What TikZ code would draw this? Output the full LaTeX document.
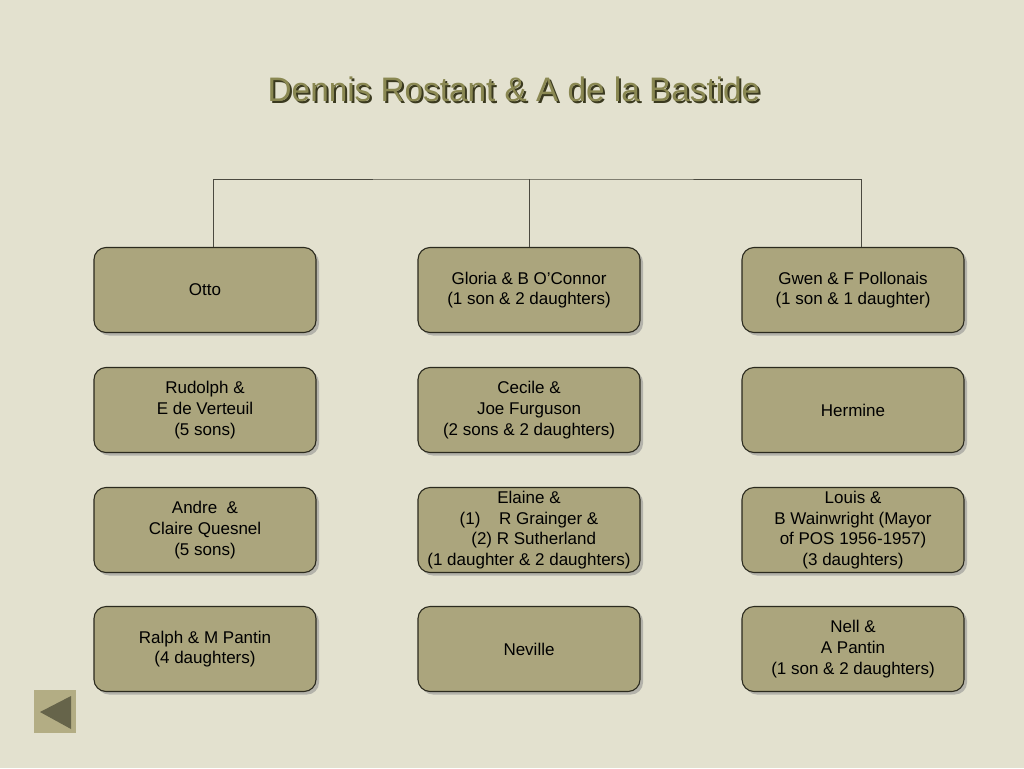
\documentclass[tikz,border=0pt]{standalone}
\usepackage{fontspec}
\setmainfont{Liberation Sans}
\usetikzlibrary{positioning}
\definecolor{slidebg}{HTML}{E3E1CF}
\definecolor{boxfill}{HTML}{ABA57D}
\definecolor{boxline}{HTML}{2B2A1E}
\definecolor{titlefill}{HTML}{8A8852}
\definecolor{titleshade}{HTML}{3A391F}
\definecolor{btnfill}{HTML}{B3AD84}
\definecolor{btnarrow}{HTML}{66644A}
\tikzset{
  family/.style={draw=boxline, line width=1.1pt, fill=boxfill, rounded corners=12pt,
    minimum width=222pt, minimum height=85pt, align=center, inner sep=2pt,
    font=\fontsize{17pt}{20.6pt}\selectfont,
    preaction={fill=black!45, opacity=0.55, transform canvas={shift={(3pt,-3pt)}}}},
  link/.style={draw=boxline!85, line width=1pt},
}
\begin{document}
\begin{tikzpicture}[x=1pt, y=-1pt]
				\fill[slidebg] (0,0) rectangle (1024,768);
				\useasboundingbox (0,0) rectangle (1024,768);

				% title with its shadow
				\node[text=titleshade, font=\fontsize{34pt}{36pt}\selectfont, xscale=0.98] at (516,91) {Dennis Rostant \& A de la Bastide};
				\node[text=titlefill, font=\fontsize{34pt}{36pt}\selectfont, xscale=0.98] (title) at (514,89) {Dennis Rostant \& A de la Bastide};

				% first row
				\node[family] (otto) at (205,290) {Otto};
				\node[family] (gloria) at (529,290) {Gloria \& B O’Connor\\(1 son \& 2 daughters)};
				\node[family] (gwen) at (853,290) {Gwen \& F Pollonais\\(1 son \& 1 daughter)};

				% second row
				\node[family] (rudolph) at (205,410) {Rudolph \&\\E de Verteuil\\(5 sons)};
				\node[family] (cecile) at (529,410) {Cecile \&\\Joe Furguson\\(2 sons \& 2 daughters)};
				\node[family] (hermine) at (853,410) {Hermine};

				% third row
				\node[family] (andre) at (205,530) {Andre~~\&\\Claire Quesnel\\(5 sons)};
				\node[family] (elaine) at (529,530) {Elaine \&\\(1)\hspace{1.1em}R Grainger \&\\~~(2) R Sutherland\\(1 daughter \& 2 daughters)};
				\node[family] (louis) at (853,530) {Louis \&\\B Wainwright (Mayor\\of POS 1956-1957)\\(3 daughters)};

				% fourth row
				\node[family] (ralph) at (205,649) {Ralph \& M Pantin\\(4 daughters)};
				\node[family] (neville) at (529,649) {Neville};
				\node[family] (nell) at (853,649) {Nell \&\\A Pantin\\(1 son \& 2 daughters)};

				% tree lines
				\coordinate (fork) at (529,179);
				\draw[link] ([xshift=8pt]otto.north) |- (fork) -| ([xshift=8pt]gwen.north);
				\draw[link] (fork) -- (gloria.north);

				% back button
				\node[fill=btnfill, minimum width=42pt, minimum height=43pt, inner sep=0pt] (back) at (55,711.5) {};
				\fill[btnarrow] (40,712) -- (71,696) -- (71,729) -- cycle;
			\end{tikzpicture}
\end{document}
